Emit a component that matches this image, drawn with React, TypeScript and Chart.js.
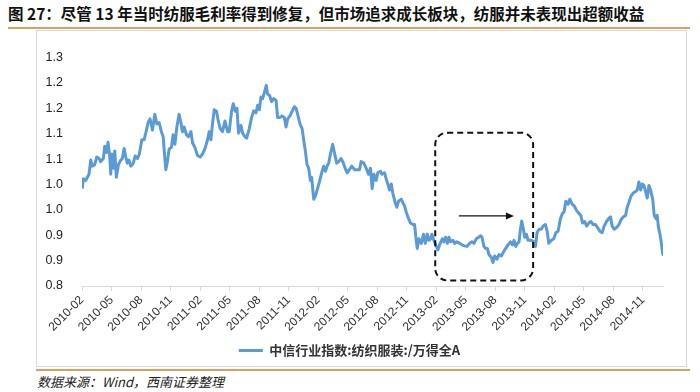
import React, { useEffect, useRef } from 'react';
import { Chart, registerables } from 'chart.js';

Chart.register(...registerables);

const titleText = '图 27：尽管 13 年当时纺服毛利率得到修复，但市场追求成长板块，纺服并未表现出超额收益';
const sourceText = '数据来源：Wind，西南证券整理';
const seriesName = '中信行业指数:纺织服装:/万得全A';

// x tick labels, one every 3 months starting 2010-02
const xTickLabels = [
  '2010-02', '2010-05', '2010-08', '2010-11',
  '2011-02', '2011-05', '2011-08', '2011-11',
  '2012-02', '2012-05', '2012-08', '2012-11',
  '2013-02', '2013-05', '2013-08', '2013-11',
  '2014-02', '2014-05', '2014-08', '2014-11',
];

// y tick labels as printed (0.8 .. 1.25 in 0.05 steps, shown with 1 decimal)
const yTickLabels = ['0.8', '0.9', '0.9', '1.0', '1.0', '1.1', '1.1', '1.2', '1.2', '1.3'];

// months elapsed since 2010-02
const monthOffsets = [
  0.03, 0.13, 0.38, 0.71, 0.89, 1.05, 1.29, 1.50, 1.73, 1.90,
  2.17, 2.31, 2.47, 2.65, 2.82, 2.92, 3.02, 3.19, 3.33, 3.49,
  3.70, 3.94, 4.10, 4.28, 4.45, 4.61, 4.78, 4.96, 5.22, 5.40,
  5.63, 5.83, 6.08, 6.31, 6.48, 6.72, 6.92, 7.16, 7.40, 7.60,
  7.84, 8.07, 8.25, 8.42, 8.52, 8.68, 8.86, 9.09, 9.26, 9.44,
  9.64, 9.87, 10.05, 10.21, 10.38, 10.62, 10.82, 11.07, 11.23, 11.47,
  11.74, 12.01, 12.25, 12.49, 12.76, 12.93, 13.10, 13.26, 13.44, 13.67,
  13.85, 14.05, 14.28, 14.53, 14.79,
  14.96, 15.20, 15.37, 15.58, 15.75,
  15.91, 16.16, 16.32, 16.56, 16.73, 17.00, 17.24, 17.44, 17.68, 17.85,
  18.02, 18.19, 18.36, 18.53, 18.73, 18.86, 19.07, 19.27, 19.47, 19.72,
  19.88, 20.13, 20.33, 20.56, 20.74, 20.90, 21.14, 21.35, 21.58, 21.76,
  21.92, 22.16, 22.37, 22.53, 22.70, 22.87, 23.04, 23.21, 23.34, 23.55,
  23.72, 23.89, 24.13, 24.36, 24.56, 24.74, 24.91, 25.07, 25.25, 25.48,
  25.65, 25.89, 26.09, 26.34, 26.57, 26.74, 26.95, 27.18, 27.42, 27.69,
  27.96, 28.20, 28.37, 28.64, 28.88, 29.12, 29.32, 29.49, 29.66, 29.90, 30.06,
  30.34, 30.47, 30.74, 30.92, 31.08, 31.25, 31.43, 31.59, 31.83,
  32.00, 32.17, 32.44, 32.61, 32.78, 32.95, 33.12, 33.39, 33.63, 33.80,
  33.97, 34.07, 34.24, 34.48, 34.71, 34.89, 35.09, 35.25, 35.43, 35.56,
  35.76, 36.01, 36.17, 36.34, 36.62, 36.78, 36.95, 37.13, 37.29, 37.46,
  37.70, 37.87, 38.10, 38.38, 38.61, 38.89, 39.12, 39.40, 39.63, 39.84,
  40.08, 40.31, 40.52, 40.65, 40.85, 41.03, 41.20, 41.36, 41.61, 41.77,
  41.94, 42.18, 42.38, 42.62, 42.86, 43.06, 43.30, 43.54, 43.75, 43.91,
  44.08, 44.26, 44.42, 44.56, 44.69, 44.86, 45.00, 45.17, 45.33,
  45.68, 45.91, 46.09, 46.25, 46.45, 46.70, 46.86, 47.10, 47.27, 47.44, 47.71,
  47.95, 48.15, 48.39, 48.63, 48.83, 49.00, 49.17, 49.41, 49.58, 49.81,
  50.02, 50.26, 50.49, 50.70, 50.87, 51.10, 51.28, 51.51, 51.72, 51.95,
  52.19, 52.40, 52.63, 52.87, 53.07, 53.31, 53.55, 53.72, 53.88, 54.09,
  54.33, 54.57, 54.77, 55.00, 55.25, 55.41, 55.58, 55.79, 56.02, 56.27,
  56.43, 56.60, 56.78, 56.94, 57.11, 57.28, 57.45, 57.62, 57.79, 58.00,
  58.16, 58.33, 58.46, 58.57, 58.74, 58.84, 58.97, 59.04,
];

// relative index: 中信纺织服装 / 万得全A
const indexValues = [
  0.992, 1.011, 1.008, 1.020, 1.048, 1.036, 1.039, 1.054, 1.051, 1.045,
  1.051, 1.075, 1.063, 1.083, 1.054, 1.020, 1.060, 1.032, 1.066, 1.014,
  1.039, 1.048, 1.051, 1.071, 1.054, 1.042, 1.048, 1.036, 1.042, 1.056,
  1.051, 1.060, 1.088, 1.088, 1.101, 1.122, 1.129, 1.107, 1.138, 1.119,
  1.122, 1.104, 1.094, 1.051, 1.029, 1.045, 1.070, 1.073, 1.098, 1.079,
  1.113, 1.138, 1.122, 1.104, 1.113, 1.098, 1.094, 1.104, 1.082, 1.073,
  1.057, 1.054, 1.060, 1.070, 1.088, 1.104, 1.088, 1.119, 1.147, 1.144,
  1.125, 1.110, 1.104, 1.125, 1.104,
  1.104, 1.144, 1.159, 1.144, 1.150,
  1.101, 1.116, 1.101, 1.094, 1.091, 1.110, 1.132, 1.145, 1.141, 1.156,
  1.147, 1.172, 1.169, 1.181, 1.195, 1.178, 1.175, 1.163, 1.169, 1.166,
  1.132, 1.132, 1.135, 1.132, 1.113, 1.129, 1.135, 1.144, 1.153, 1.150,
  1.138, 1.119, 1.110, 1.088, 1.066, 1.039, 1.032, 1.008, 1.014, 0.971,
  0.977, 0.989, 1.005, 1.023, 1.036, 1.026, 1.036, 1.042, 1.060, 1.079,
  1.063, 1.042, 1.045, 1.051, 1.042, 1.032, 1.023, 1.029, 1.036, 1.029,
  1.029, 1.029, 1.045, 1.042, 1.032, 1.020, 1.032, 0.992, 1.020, 1.008, 1.023,
  1.026, 1.020, 1.023, 1.011, 1.001, 0.989, 1.001, 0.983, 0.964,
  0.955, 0.967, 0.971, 0.964, 0.958, 0.946, 0.936, 0.924, 0.921, 0.921,
  0.890, 0.874, 0.893, 0.884, 0.902, 0.884, 0.902, 0.890, 0.893, 0.902,
  0.890, 0.878, 0.871, 0.881, 0.893, 0.887, 0.896, 0.884, 0.896, 0.887,
  0.890, 0.884, 0.887, 0.884, 0.881, 0.879, 0.878, 0.884, 0.887, 0.884,
  0.893, 0.896, 0.899, 0.896, 0.878, 0.874, 0.874, 0.862, 0.856, 0.846,
  0.859, 0.853, 0.862, 0.859, 0.868, 0.874, 0.881, 0.887, 0.881, 0.890,
  0.878, 0.884, 0.887, 0.912, 0.928, 0.912, 0.896, 0.902, 0.890,
  0.890, 0.887, 0.878, 0.905, 0.912, 0.912, 0.918, 0.921, 0.908, 0.884, 0.890,
  0.893, 0.905, 0.908, 0.933, 0.943, 0.946, 0.967, 0.961, 0.971, 0.961,
  0.958, 0.949, 0.943, 0.939, 0.924, 0.927, 0.918, 0.924, 0.927, 0.921,
  0.921, 0.915, 0.908, 0.905, 0.918, 0.927, 0.933, 0.936, 0.918, 0.912,
  0.915, 0.921, 0.930, 0.936, 0.939, 0.955, 0.964, 0.977, 0.983, 0.986,
  0.989, 1.005, 0.989, 1.001, 0.998, 0.986, 0.973, 0.998, 0.989, 0.971,
  0.939, 0.933, 0.939, 0.918, 0.902, 0.890, 0.871, 0.862,
];

// annotation (data units): dashed highlight box over 2013 and arrow inside it
const highlightBox = { fromMonth: 35.9, toMonth: 45.85, top: 1.102, bottom: 0.811 };
const arrowSpan = { fromMonth: 38.3, toMonth: 43.9, level: 0.938 };

const CJK = '"Noto Sans CJK SC", "Liberation Sans", sans-serif';
const LATIN = '"Liberation Sans", Arial, sans-serif';

const annotationPlugin = {
  id: 'highlightAnnotation',
  afterDatasetsDraw(chart: any) {
    const { ctx, scales } = chart;
    const x = scales.x;
    const y = scales.y;
    const l = x.getPixelForValue(highlightBox.fromMonth);
    const r = x.getPixelForValue(highlightBox.toMonth);
    const t = y.getPixelForValue(highlightBox.top);
    const b = y.getPixelForValue(highlightBox.bottom);
    const rad = 12;
    ctx.save();
    ctx.strokeStyle = '#111';
    ctx.lineWidth = 2;
    ctx.setLineDash([6, 4]);
    ctx.beginPath();
    ctx.moveTo(l + rad, t);
    ctx.arcTo(r, t, r, b, rad);
    ctx.arcTo(r, b, l, b, rad);
    ctx.arcTo(l, b, l, t, rad);
    ctx.arcTo(l, t, r, t, rad);
    ctx.closePath();
    ctx.stroke();

    ctx.setLineDash([]);
    const ax0 = x.getPixelForValue(arrowSpan.fromMonth);
    const ax1 = x.getPixelForValue(arrowSpan.toMonth);
    const ay = y.getPixelForValue(arrowSpan.level);
    ctx.lineWidth = 1.3;
    ctx.strokeStyle = '#111';
    ctx.fillStyle = '#111';
    ctx.beginPath();
    ctx.moveTo(ax0, ay);
    ctx.lineTo(ax1 - 6, ay);
    ctx.stroke();
    ctx.beginPath();
    ctx.moveTo(ax1, ay);
    ctx.lineTo(ax1 - 8, ay - 3.5);
    ctx.lineTo(ax1 - 8, ay + 3.5);
    ctx.closePath();
    ctx.fill();
    ctx.restore();
  },
};

function LineChart() {
  const ref = useRef<HTMLCanvasElement | null>(null);
  useEffect(() => {
    if (!ref.current) return;
    const points = monthOffsets.map((m, i) => ({ x: m, y: indexValues[i] }));
    const chart = new Chart(ref.current, {
      type: 'line',
      data: {
        datasets: [
          {
            label: seriesName,
            data: points,
            borderColor: '#5B9BD5',
            backgroundColor: '#5B9BD5',
            borderWidth: 3,
            pointRadius: 0,
            pointHoverRadius: 0,
            tension: 0,
            fill: false,
            borderJoinStyle: 'round',
          } as any,
        ],
      },
      options: {
        animation: false,
        responsive: false,
        maintainAspectRatio: false,
        layout: { padding: { top: 12, right: 24, bottom: 0, left: 0 } },
        plugins: {
          legend: {
            position: 'bottom',
            labels: {
              usePointStyle: true,
              pointStyle: 'line',
              pointStyleWidth: 24,
              boxHeight: 12,
              padding: 8,
              color: '#333',
              font: { family: CJK, size: 13, weight: 'bold' },
            },
          },
          tooltip: { enabled: false },
        },
        scales: {
          x: {
            type: 'linear',
            min: 0,
            max: 59.05,
            afterBuildTicks: (axis: any) => {
              axis.ticks = xTickLabels.map((_, i) => ({ value: i * 3 }));
            },
            afterFit: (s: any) => {
              s.height = 50;
            },
            ticks: {
              autoSkip: false,
              minRotation: 45,
              maxRotation: 45,
              padding: 2,
              color: '#333',
              font: { family: LATIN, size: 12 },
              callback: (v: any) => xTickLabels[Math.round(Number(v) / 3)] ?? '',
            },
            grid: { drawOnChartArea: false, drawTicks: true, tickLength: 5, color: '#d9d9d9' },
            border: { display: true, color: '#d9d9d9' },
          },
          y: {
            min: 0.8,
            max: 1.25,
            afterFit: (s: any) => {
              s.width = 46;
            },
            ticks: {
              stepSize: 0.05,
              padding: 19,
              color: '#222',
              font: { family: LATIN, size: 12.5 },
              callback: (v: any) => yTickLabels[Math.round((Number(v) - 0.8) / 0.05)] ?? '',
            },
            grid: { display: false, drawTicks: false },
            border: { display: false },
          },
        },
      } as any,
      plugins: [annotationPlugin],
    });
    return () => chart.destroy();
  }, []);
  return <canvas ref={ref} width={651} height={336} style={{ width: 651, height: 336, display: 'block' }} />;
}

export default function App() {
  return (
    <div style={{ position: 'absolute', left: 0, top: 0, width: 700, height: 392, background: '#fff', overflow: 'hidden' }}>
      <div
        style={{
          position: 'absolute', left: 8, top: 3, fontFamily: CJK, fontWeight: 'bold', fontSize: 15.5,
          color: '#111', whiteSpace: 'nowrap', lineHeight: '20px',
        }}
      >
        {titleText}
      </div>
      <div style={{ position: 'absolute', left: 8, top: 27, width: 682, height: 2, background: '#D9A15E' }} />
      <div style={{ position: 'absolute', left: 36, top: 30, width: 649, height: 335, border: '1px solid #d9d9d9' }} />
      <div style={{ position: 'absolute', left: 36, top: 31 }}>
        <LineChart />
      </div>
      <div style={{ position: 'absolute', left: 36, top: 369, width: 654, height: 2, background: '#D9A15E' }} />
      <div
        style={{
          position: 'absolute', left: 37, top: 373, fontFamily: CJK, fontStyle: 'italic', fontSize: 13,
          color: '#222', whiteSpace: 'nowrap', lineHeight: '18px',
        }}
      >
        {sourceText}
      </div>
    </div>
  );
}
